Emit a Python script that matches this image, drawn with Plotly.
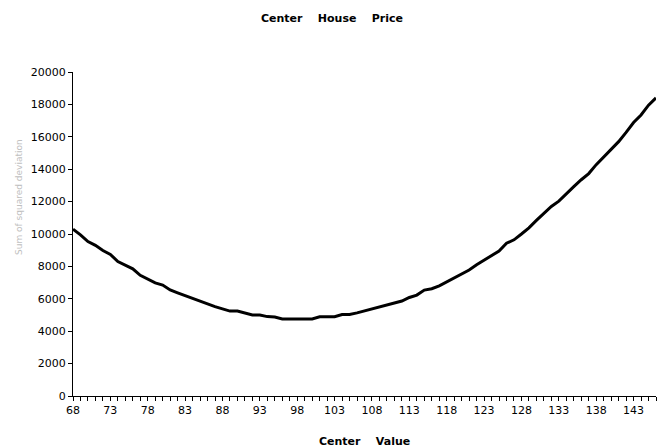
import plotly.graph_objects as go

center_value = list(range(68, 147))
house_price = [
    10300, 9950, 9530, 9300, 8980, 8740, 8300, 8070, 7850, 7450,
    7200, 6980, 6850, 6550, 6370, 6200, 6000, 5850, 5700, 5520,
    5380, 5240, 5240, 5130, 5000, 5000, 4900, 4880, 4760, 4760,
    4760, 4760, 4760, 4890, 4890, 4890, 5030, 5030, 5130, 5250,
    5380, 5480, 5610, 5750, 5860, 6080, 6230, 6540, 6620, 6800,
    7050, 7300, 7550, 7780, 8100, 8380, 8620, 8950, 9430, 9640,
    10000, 10380, 10840, 11300, 11700, 12030, 12500, 12920, 13350, 13730,
    14280, 14750, 15250, 15700, 16270, 16880, 17350, 17950, 18400,
]
x_tick_labels = [str(v) for v in range(68, 147, 5)]
y_tick_vals = list(range(0, 20001, 2000))

title_text = "Center&nbsp;&nbsp;&nbsp;&nbsp;House&nbsp;&nbsp;&nbsp;&nbsp;Price"
x_title_text = "Center&nbsp;&nbsp;&nbsp;&nbsp;Value"
y_title_text = "Sum of squared deviation"

fig = go.Figure()
fig.add_trace(go.Scatter(
    x=center_value, y=house_price, mode="lines",
    line=dict(color="black", width=3), showlegend=False,
))

font_main = "DejaVu Sans, Verdana, sans-serif"
W, H = 658, 447
L, R, T, B = 73, 2, 72, 51
PW, PH = W - L - R, H - T - B

fig.update_layout(
    width=W, height=H, autosize=False,
    margin=dict(l=L, r=R, t=T, b=B),
    paper_bgcolor="white", plot_bgcolor="white",
    font=dict(family=font_main, size=11, color="black"),
    title=dict(text="<b>" + title_text + "</b>", x=332 / W, xref="container",
               xanchor="center", y=1 - 18 / H, yanchor="middle",
               font=dict(size=11, color="black")),
    annotations=[
        dict(text="<b>" + x_title_text + "</b>", x=0.5, xref="paper",
             y=-45 / PH, yref="paper", yanchor="middle", showarrow=False,
             font=dict(size=11, color="black")),
        dict(text=y_title_text, xref="paper", yref="paper",
             x=-61 / PW, y=(396 - 197) / PH, textangle=-90,
             showarrow=False, font=dict(size=9, color="#c0c0c0")),
    ],
)

fig.update_xaxes(
    range=[68, 146], tickmode="array",
    tickvals=list(range(68, 147, 5)), ticktext=x_tick_labels,
    ticks="outside", ticklen=4, tickcolor="black", tickwidth=1,
    minor=dict(dtick=1, tick0=68, ticks="outside", ticklen=4,
               tickcolor="black", tickwidth=1, showgrid=False),
    showline=True, linecolor="black", linewidth=1,
    showgrid=False, zeroline=False,
    tickfont=dict(size=11, color="black"),
)
fig.update_yaxes(
    range=[0, 20000], tickmode="array", tickvals=y_tick_vals,
    ticktext=[str(v) for v in y_tick_vals],
    ticks="outside", ticklen=4, tickcolor="black", tickwidth=1,
    showline=True, linecolor="black", linewidth=1,
    showgrid=False, zeroline=False,
    tickfont=dict(size=11, color="black"),
)

fig.write_html(
    "out.html",
    config={"displayModeBar": False},
    post_script="document.body.style.margin='0';document.body.style.overflow='hidden';",
)
